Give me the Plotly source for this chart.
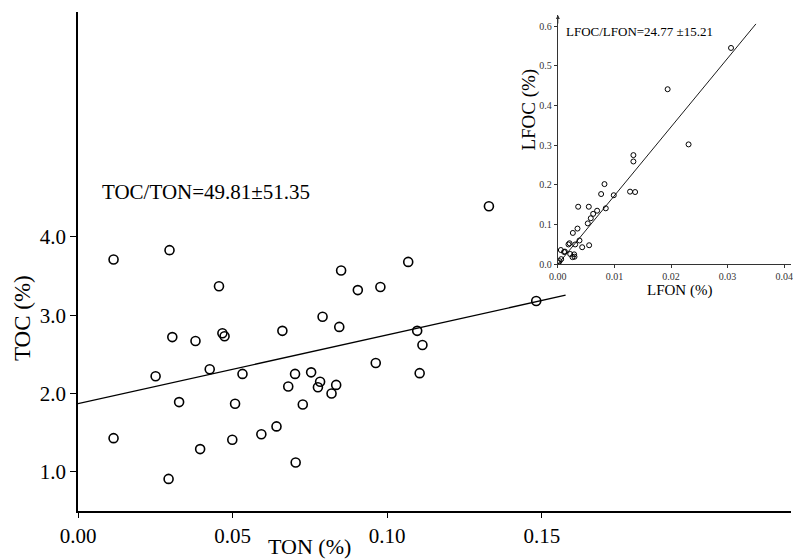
import plotly.graph_objects as go

# ---- main scatter: TON vs TOC ----
ton = [0.0115, 0.0296, 0.0115, 0.0293, 0.0456, 0.0305, 0.0380, 0.0467, 0.0474, 0.0251,
       0.0426, 0.0327, 0.0532, 0.0508, 0.0499, 0.0395, 0.0593, 0.0642, 0.0661, 0.0680,
       0.0702, 0.0704, 0.1329, 0.1068, 0.0851, 0.0905, 0.0978, 0.0791, 0.0845, 0.1097,
       0.1114, 0.1482, 0.0963, 0.1105, 0.0754, 0.0783, 0.0776, 0.0835, 0.0820, 0.0727]
toc = [3.71, 3.83, 1.43, 0.91, 3.37, 2.72, 2.67, 2.77, 2.73, 2.22,
       2.31, 1.89, 2.25, 1.87, 1.41, 1.29, 1.48, 1.58, 2.80, 2.09,
       2.25, 1.12, 4.39, 3.68, 3.57, 3.32, 3.36, 2.98, 2.85, 2.80,
       2.62, 3.18, 2.39, 2.26, 2.27, 2.15, 2.08, 2.11, 2.00, 1.86]
main_fit_intercept = 1.87
main_fit_slope = 8.78
main_fit_x = [0.0, 0.1577]
main_xticks = [0.00, 0.05, 0.10, 0.15]
main_xticklabels = ["0.00", "0.05", "0.10", "0.15"]
main_yticks = [1.0, 2.0, 3.0, 4.0]
main_yticklabels = ["1.0", "2.0", "3.0", "4.0"]

# ---- inset scatter: LFON vs LFOC ----
lfon = [0.0306, 0.0194, 0.0231, 0.01335, 0.01335, 0.01276, 0.01365,
        0.00824, 0.00765, 0.00988, 0.00847, 0.00359, 0.00547, 0.00694, 0.00624,
        0.00582, 0.00529, 0.00347, 0.00265, 0.00382, 0.00188, 0.00306, 0.0043,
        0.00553, 0.00206, 0.00053, 0.00110, 0.00125, 0.00218, 0.00288, 0.00259,
        0.00294, 0.00059, 0.0003, 0.0001]
lfoc = [0.545, 0.441, 0.302, 0.275, 0.259, 0.183, 0.182,
        0.202, 0.177, 0.174, 0.141, 0.145, 0.145, 0.135, 0.127,
        0.116, 0.103, 0.090, 0.079, 0.060, 0.050, 0.050, 0.043,
        0.048, 0.053, 0.036, 0.031, 0.032, 0.026, 0.025, 0.018,
        0.019, 0.013, 0.008, 0.003]
inset_fit_intercept = 0.0
inset_fit_slope = 17.3
inset_fit_x = [0.0, 0.035]
inset_xticks = [0.00, 0.01, 0.02, 0.03, 0.04]
inset_xticklabels = ["0.00", "0.01", "0.02", "0.03", "0.04"]
inset_yticks = [0.0, 0.1, 0.2, 0.3, 0.4, 0.5, 0.6]
inset_yticklabels = ["0.0", "0.1", "0.2", "0.3", "0.4", "0.5", "0.6"]

FONT = "Liberation Serif"

fig = go.Figure()

fig.add_trace(go.Scatter(
    x=ton, y=toc, mode="markers", xaxis="x", yaxis="y",
    marker=dict(symbol="circle-open", size=9, color="black", line=dict(width=1.6, color="black")),
    showlegend=False, hoverinfo="skip"))
fig.add_trace(go.Scatter(
    x=main_fit_x, y=[main_fit_intercept + main_fit_slope * v for v in main_fit_x],
    mode="lines", xaxis="x", yaxis="y", line=dict(color="black", width=1.3),
    showlegend=False, hoverinfo="skip"))

fig.add_trace(go.Scatter(
    x=lfon, y=lfoc, mode="markers", xaxis="x2", yaxis="y2",
    marker=dict(symbol="circle-open", size=5, color="black", line=dict(width=1, color="black")),
    showlegend=False, hoverinfo="skip"))
fig.add_trace(go.Scatter(
    x=inset_fit_x, y=[inset_fit_intercept + inset_fit_slope * v for v in inset_fit_x],
    mode="lines", xaxis="x2", yaxis="y2", line=dict(color="black", width=0.9),
    showlegend=False, hoverinfo="skip"))

fig.update_layout(
    width=793, height=560,
    margin=dict(l=78, r=0, t=12, b=49),
    paper_bgcolor="white", plot_bgcolor="rgba(0,0,0,0)",
    font=dict(family=FONT, color="black"),
    xaxis=dict(domain=[0, 1], range=[0, 0.2306], showline=True, linecolor="black", linewidth=1.6,
               ticks="outside", ticklen=5, tickwidth=1.3, tickcolor="black",
               tickvals=main_xticks, ticktext=main_xticklabels,
               tickfont=dict(family=FONT, size=21), showgrid=False, zeroline=False),
    yaxis=dict(domain=[0, 1], range=[0.5, 6.87], showline=True, linecolor="black", linewidth=1.6,
               ticks="outside", ticklen=6, tickwidth=1.3, tickcolor="black",
               tickvals=main_yticks, ticktext=main_yticklabels,
               tickfont=dict(family=FONT, size=21), showgrid=False, zeroline=False),
    xaxis2=dict(domain=[0.673, 1.0], anchor="y2", range=[0, 0.0412], showline=True,
                linecolor="#333", linewidth=1.2, ticks="outside", ticklen=3, tickwidth=0.8,
                tickcolor="#333", tickvals=inset_xticks, ticktext=inset_xticklabels,
                ticklabeloverflow="allow",
                tickfont=dict(family=FONT, size=10, color="#333"), showgrid=False, zeroline=False),
    yaxis2=dict(domain=[0.4944, 0.994], anchor="x2", range=[0, 0.628], showline=True,
                linecolor="#333", linewidth=1.2, ticks="outside", ticklen=3, tickwidth=0.8,
                tickcolor="#333", tickvals=inset_yticks, ticktext=inset_yticklabels,
                tickfont=dict(family=FONT, size=10, color="#333"), showgrid=False, zeroline=False),
    annotations=[
        dict(text="TOC/TON=49.81±51.35", xref="paper", yref="paper", x=0.0308, y=0.639,
             xanchor="left", yanchor="middle", showarrow=False, font=dict(family=FONT, size=21)),
        dict(text="TOC (%)", xref="paper", yref="paper", x=-0.0769, y=0.387, textangle=-90,
             xanchor="center", yanchor="middle", showarrow=False, font=dict(family=FONT, size=23)),
        dict(text="TON (%)", xref="paper", yref="paper", x=0.3245, y=-0.0721,
             xanchor="center", yanchor="middle", showarrow=False, font=dict(family=FONT, size=22)),
        dict(text="LFOC/LFON=24.77 ±15.21", xref="paper", yref="paper", x=0.681, y=0.960,
             xanchor="left", yanchor="middle", showarrow=False, font=dict(family=FONT, size=13)),
        dict(text="LFOC (%)", xref="paper", yref="paper", x=0.632, y=0.8036, textangle=-90,
             xanchor="center", yanchor="middle", showarrow=False, font=dict(family=FONT, size=19)),
        dict(text="LFON (%)", xref="paper", yref="paper", x=0.843, y=0.4409,
             xanchor="center", yanchor="middle", showarrow=False, font=dict(family=FONT, size=15)),
        dict(text="", xref="x2", yref="y2", x=0, y=0.628, ax=0, ay=10, axref="pixel", ayref="pixel",
             showarrow=True, arrowhead=2, arrowsize=0.8, arrowwidth=1, arrowcolor="#333"),
    ],
)

fig.write_html("out.html", config={"displayModeBar": False},
               post_script="document.body.style.margin='0';")
